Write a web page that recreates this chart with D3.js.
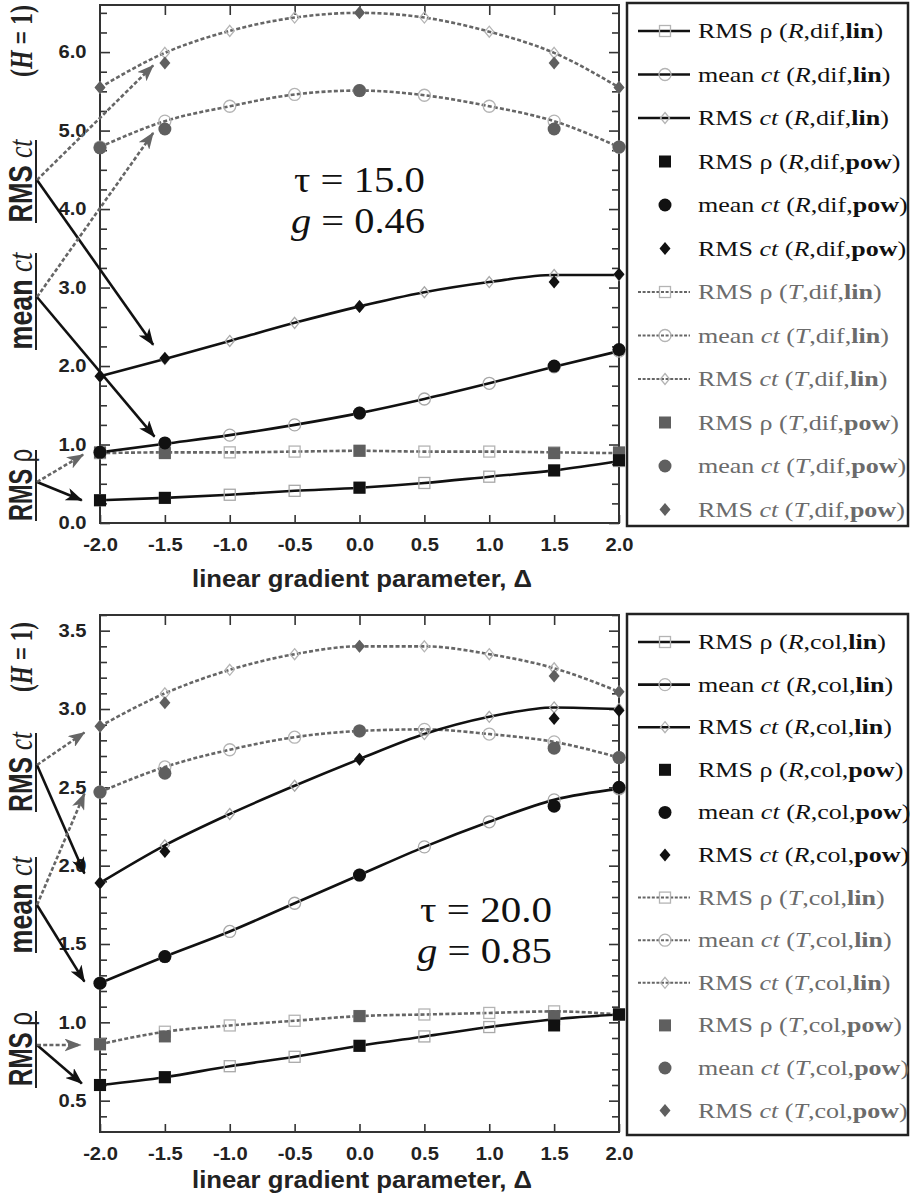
<!DOCTYPE html>
<html>
<head>
<meta charset="utf-8">
<script src="https://cdn.jsdelivr.net/npm/d3@7"></script>
<style>
  body { margin: 0; background: #fff; }
  svg { display: block; }
</style>
</head>
<body>
<div id="canvas"></div>
<script>
// linear gradient parameter values
const deltas = [-2.0, -1.5, -1.0, -0.5, 0.0, 0.5, 1.0, 1.5, 2.0];
const powDeltas = [-2.0, -1.5, 0.0, 1.5, 2.0];
const xTicks = [-2.0, -1.5, -1.0, -0.5, 0.0, 0.5, 1.0, 1.5, 2.0];

// top panel: tau = 15.0, g = 0.46, diffuse
const difRlinRho  = [0.29, 0.32, 0.36, 0.41, 0.45, 0.51, 0.59, 0.67, 0.79];
const difRlinMean = [0.90, 1.01, 1.12, 1.25, 1.40, 1.58, 1.78, 1.99, 2.19];
const difRlinRms  = [1.87, 2.09, 2.32, 2.55, 2.76, 2.94, 3.07, 3.16, 3.16];
const difTlinRho  = [0.89, 0.90, 0.90, 0.91, 0.92, 0.91, 0.91, 0.90, 0.89];
const difTlinMean = [4.79, 5.12, 5.31, 5.46, 5.51, 5.45, 5.31, 5.12, 4.79];
const difTlinRms  = [5.55, 5.99, 6.27, 6.44, 6.50, 6.44, 6.26, 5.99, 5.55];
const difRpowRho  = [0.29, 0.32, 0.45, 0.67, 0.80];
const difRpowMean = [0.90, 1.02, 1.40, 2.00, 2.21];
const difRpowRms  = [1.87, 2.10, 2.76, 3.07, 3.17];
const difTpowRho  = [0.90, 0.89, 0.92, 0.89, 0.90];
const difTpowMean = [4.78, 5.02, 5.51, 5.02, 4.79];
const difTpowRms  = [5.55, 5.86, 6.50, 5.86, 5.55];
const difYTicks = [0, 1, 2, 3, 4, 5, 6];

// bottom panel: tau = 20.0, g = 0.85, collimated
const colRlinRho  = [0.60, 0.65, 0.72, 0.78, 0.85, 0.91, 0.97, 1.02, 1.05];
const colRlinMean = [1.25, 1.42, 1.58, 1.76, 1.94, 2.12, 2.28, 2.42, 2.49];
const colRlinRms  = [1.89, 2.13, 2.33, 2.51, 2.68, 2.84, 2.95, 3.01, 3.00];
const colTlinRho  = [0.86, 0.94, 0.98, 1.01, 1.04, 1.05, 1.06, 1.07, 1.05];
const colTlinMean = [2.47, 2.63, 2.74, 2.82, 2.86, 2.87, 2.84, 2.79, 2.69];
const colTlinRms  = [2.89, 3.10, 3.25, 3.35, 3.40, 3.40, 3.35, 3.26, 3.11];
const colRpowRho  = [0.60, 0.65, 0.85, 0.98, 1.05];
const colRpowMean = [1.25, 1.42, 1.94, 2.38, 2.50];
const colRpowRms  = [1.89, 2.09, 2.68, 2.94, 2.99];
const colTpowRho  = [0.86, 0.91, 1.04, 1.04, 1.05];
const colTpowMean = [2.47, 2.59, 2.86, 2.75, 2.69];
const colTpowRms  = [2.89, 3.04, 3.40, 3.21, 3.11];
const colYTicks = [0.5, 1.0, 1.5, 2.0, 2.5, 3.0, 3.5];

const measures = ['rho', 'mean', 'rms'];
const shapes = { rho: 'square', mean: 'circle', rms: 'diamond' };

const SANS = "'Liberation Sans', Arial, sans-serif";
const SERIF = "'Liberation Serif', 'Times New Roman', serif";
const BLACK = '#111';
const DARK_GREY = '#5f5f5f';
const LIGHT = '#a8a8a8';
const T_TEXT = '#6b6b6b';

const panels = [
  {
    kind: 'dif', top: 5, bottom: 523, yDomain: [0, 6.6], yTicks: difYTicks, minorStep: 0.25,
    lin: { R: [difRlinRho, difRlinMean, difRlinRms], T: [difTlinRho, difTlinMean, difTlinRms] },
    pow: { R: [difRpowRho, difRpowMean, difRpowRms], T: [difTpowRho, difTpowMean, difTpowRms] },
    tau: '15.0', g: '0.46', noteX: 294, noteY: 192, noteLen: 131,
    labels: { h: [41, 72], rms: [181, 83, 140, 223], mean: [301, 97, 253, 350], rho: [485, 72, 450, 521] },
    arrows: [
      { from: [37, 180], to: [-1.59, 2.27], dotted: false },
      { from: [37, 180], to: [-1.59, 5.83], dotted: true },
      { from: [37, 297], to: [-1.58, 1.10], dotted: false },
      { from: [37, 297], to: [-1.59, 4.97], dotted: true },
      { from: [37, 482], to: [-2.14, 0.29], dotted: false },
      { from: [37, 482], to: [-2.13, 0.87], dotted: true }
    ],
    legendTop: 3, rowY0: 31, rowStep: 43.5, xTitleY: 587
  },
  {
    kind: 'col', top: 615, bottom: 1132, yDomain: [0.3, 3.6], yTicks: colYTicks, minorStep: 0.1,
    lin: { R: [colRlinRho, colRlinMean, colRlinRms], T: [colTlinRho, colTlinMean, colTlinRms] },
    pow: { R: [colRpowRho, colRpowMean, colRpowRms], T: [colTpowRho, colTpowMean, colTpowRms] },
    tau: '20.0', g: '0.85', noteX: 420, noteY: 922, noteLen: 132,
    labels: { h: [657, 70], rms: [772, 80, 733, 812], mean: [905, 97, 857, 953], rho: [1049, 74, 1011, 1088] },
    arrows: [
      { from: [37, 765], to: [-2.12, 1.95], dotted: false },
      { from: [37, 765], to: [-2.12, 2.85], dotted: true },
      { from: [37, 905], to: [-2.12, 1.26], dotted: false },
      { from: [37, 905], to: [-2.12, 2.46], dotted: true },
      { from: [37, 1045], to: [-2.14, 0.61], dotted: false },
      { from: [37, 1045], to: [-2.15, 0.855], dotted: true }
    ],
    legendTop: 614, rowY0: 642, rowStep: 42.6, xTitleY: 1188
  }
];

const svg = d3.select('#canvas').append('svg')
  .attr('width', 910)
  .attr('height', 1202);

const defs = svg.append('defs');
[['head-black', BLACK], ['head-grey', '#666']].forEach(([id, c]) => {
  defs.append('marker')
    .attr('id', id)
    .attr('viewBox', '0 0 17 13')
    .attr('refX', 16).attr('refY', 6.5)
    .attr('markerWidth', 17).attr('markerHeight', 13)
    .attr('markerUnits', 'userSpaceOnUse')
    .attr('orient', 'auto')
    .append('path')
    .attr('d', 'M0,0 L17,6.5 L0,13 L4.5,6.5 Z')
    .attr('fill', c);
});

const x = d3.scaleLinear().domain([-2, 2]).range([100, 619]);

function drawSymbol(g, shape, cx, cy, filled, color) {
  let s;
  if (shape === 'square') {
    const h = filled ? 6 : 5.5;
    s = g.append('rect').attr('x', cx - h).attr('y', cy - h).attr('width', 2 * h).attr('height', 2 * h);
  } else if (shape === 'circle') {
    s = g.append('circle').attr('cx', cx).attr('cy', cy).attr('r', filled ? 6.5 : 6);
  } else {
    const h = filled ? 6.5 : 5.5, w = filled ? 5.5 : 4.5;
    s = g.append('path').attr('d', `M${cx},${cy - h}L${cx + w},${cy}L${cx},${cy + h}L${cx - w},${cy}Z`);
  }
  if (filled) s.attr('fill', color).attr('stroke', 'none');
  else s.attr('fill', 'none').attr('stroke', color).attr('stroke-width', 1.3);
}

function addParts(t, parts) {
  parts.forEach(p => {
    t.append('tspan').text(p.t)
      .attr('font-family', p.f || SERIF)
      .attr('font-weight', p.b ? 'bold' : 'normal')
      .attr('font-style', p.i ? 'italic' : 'normal');
  });
}

panels.forEach(p => {
  const y = d3.scaleLinear().domain(p.yDomain).range([p.bottom, p.top]);
  const g = svg.append('g');

  // axes with inward ticks
  const minor = d3.range(p.yDomain[0], p.yDomain[1] + 1e-9, p.minorStep)
    .map(v => +v.toFixed(3))
    .filter(v => !p.yTicks.some(m => Math.abs(m - v) < 1e-6) && v > p.yDomain[0] + 1e-6);
  const fmt = d => d.toFixed(1);

  const styleAxis = sel => {
    sel.select('.domain').remove();
    sel.selectAll('line').attr('stroke', '#333').attr('stroke-width', 1.6);
    sel.selectAll('text')
      .attr('font-family', SANS).attr('font-weight', 'bold')
      .attr('font-size', 18).attr('fill', '#222')
      .attr('transform', 'scale(1.12,1)');
  };

  g.append('g').attr('transform', 'translate(100,0)')
    .call(d3.axisLeft(y).tickValues(p.yTicks).tickSizeInner(-10).tickSizeOuter(0).tickPadding(12).tickFormat(fmt))
    .call(styleAxis);
  g.append('g').attr('transform', 'translate(100,0)')
    .call(d3.axisLeft(y).tickValues(minor).tickSizeInner(-7).tickSizeOuter(0).tickFormat(''))
    .call(styleAxis);
  g.append('g').attr('transform', 'translate(619,0)')
    .call(d3.axisRight(y).tickValues(p.yTicks).tickSizeInner(-10).tickSizeOuter(0).tickFormat(''))
    .call(styleAxis);
  g.append('g').attr('transform', 'translate(619,0)')
    .call(d3.axisRight(y).tickValues(minor).tickSizeInner(-7).tickSizeOuter(0).tickFormat(''))
    .call(styleAxis);
  g.append('g').attr('transform', `translate(0,${p.top})`)
    .call(d3.axisTop(x).tickValues(xTicks.slice(1, -1)).tickSizeInner(-10).tickSizeOuter(0).tickFormat(''))
    .call(styleAxis);
  g.append('g').attr('transform', `translate(0,${p.bottom})`)
    .call(d3.axisBottom(x).tickValues(xTicks).tickSizeInner(-8).tickSizeOuter(0).tickPadding(15).tickFormat(fmt))
    .call(styleAxis);

  g.append('rect')
    .attr('x', 100).attr('y', p.top)
    .attr('width', 519).attr('height', p.bottom - p.top)
    .attr('fill', 'none').attr('stroke', '#333').attr('stroke-width', 2);

  g.append('text')
    .attr('x', 362).attr('y', p.xTitleY)
    .attr('text-anchor', 'middle')
    .attr('font-family', SANS).attr('font-weight', 'bold').attr('font-size', 24)
    .attr('fill', '#222')
    .attr('textLength', 340).attr('lengthAdjust', 'spacingAndGlyphs')
    .text('linear gradient parameter, Δ');

  // curves for the linear-gradient runs
  const line = d3.line()
    .x((d, i) => x(deltas[i]))
    .y(d => y(d))
    .curve(d3.curveMonotoneX);

  p.lin.T.forEach(vals => {
    g.append('path').attr('d', line(vals))
      .attr('fill', 'none').attr('stroke', '#666')
      .attr('stroke-width', 2.6).attr('stroke-dasharray', '4,2.2');
  });
  p.lin.R.forEach(vals => {
    g.append('path').attr('d', line(vals))
      .attr('fill', 'none').attr('stroke', BLACK).attr('stroke-width', 2.6);
  });

  // open markers (lin), then filled markers (pow)
  ['T', 'R'].forEach(src => {
    p.lin[src].forEach((vals, k) => {
      vals.forEach((v, i) => drawSymbol(g, shapes[measures[k]], x(deltas[i]), y(v), false,
        src === 'T' ? '#b4b4b4' : LIGHT));
    });
  });
  ['T', 'R'].forEach(src => {
    p.pow[src].forEach((vals, k) => {
      vals.forEach((v, i) => drawSymbol(g, shapes[measures[k]], x(powDeltas[i]), y(v), true,
        src === 'T' ? DARK_GREY : BLACK));
    });
  });

  // annotation
  const note = g.append('g')
    .attr('font-family', SERIF).attr('font-size', 36).attr('fill', '#111');
  const t1 = note.append('text').attr('x', p.noteX).attr('y', p.noteY)
    .attr('textLength', p.noteLen).attr('lengthAdjust', 'spacingAndGlyphs');
  addParts(t1, [{ t: 'τ = ' + p.tau }]);
  const t2 = note.append('text').attr('x', p.noteX - 3).attr('y', p.noteY + 41)
    .attr('textLength', p.noteLen + 3).attr('lengthAdjust', 'spacingAndGlyphs');
  addParts(t2, [{ t: 'g', i: true }, { t: ' = ' + p.g }]);

  // rotated side labels
  const side = (cy, len, parts, size) => {
    const t = g.append('text')
      .attr('transform', `translate(32,${cy}) scale(1.3,1) rotate(-90)`)
      .attr('text-anchor', 'middle').attr('font-size', size).attr('fill', '#222')
      .attr('textLength', len).attr('lengthAdjust', 'spacingAndGlyphs');
    addParts(t, parts);
  };
  side(p.labels.h[0], p.labels.h[1],
    [{ t: '(', b: true }, { t: 'H', b: true, i: true }, { t: ' = 1)', b: true }], 24);
  side(p.labels.rms[0], p.labels.rms[1],
    [{ t: 'RMS ', f: SANS, b: true }, { t: 'ct', i: true }], 26);
  side(p.labels.mean[0], p.labels.mean[1],
    [{ t: 'mean ', f: SANS, b: true }, { t: 'ct', i: true }], 26);
  side(p.labels.rho[0], p.labels.rho[1],
    [{ t: 'RMS ', f: SANS, b: true }, { t: 'ρ', f: SANS }], 26);
  ['rms', 'mean', 'rho'].forEach(k => {
    g.append('line')
      .attr('x1', 36).attr('x2', 36)
      .attr('y1', p.labels[k][2]).attr('y2', p.labels[k][3])
      .attr('stroke', '#222').attr('stroke-width', 2);
  });

  // arrows from the labels to the curves
  p.arrows.forEach(a => {
    g.append('line')
      .attr('x1', a.from[0]).attr('y1', a.from[1])
      .attr('x2', x(a.to[0])).attr('y2', y(a.to[1]))
      .attr('stroke', a.dotted ? '#666' : BLACK)
      .attr('stroke-width', 2.6)
      .attr('stroke-dasharray', a.dotted ? '4,2.2' : null)
      .attr('marker-end', a.dotted ? 'url(#head-grey)' : 'url(#head-black)');
  });

  // legend
  const lg = g.append('g');
  lg.append('rect')
    .attr('x', 627).attr('y', p.legendTop)
    .attr('width', 281).attr('height', p.bottom + 3 - p.legendTop)
    .attr('fill', '#fff').attr('stroke', '#222').attr('stroke-width', 2.5);

  const entries = [];
  ['R', 'T'].forEach(src => {
    ['lin', 'pow'].forEach(mode => {
      measures.forEach(m => entries.push({ src, mode, m }));
    });
  });
  entries.forEach((e, i) => {
    const ry = p.rowY0 + i * p.rowStep;
    const col = e.src === 'T' ? T_TEXT : BLACK;
    if (e.mode === 'lin') {
      lg.append('line').attr('x1', 638).attr('x2', 690).attr('y1', ry).attr('y2', ry)
        .attr('stroke', e.src === 'T' ? '#666' : BLACK)
        .attr('stroke-width', e.src === 'T' ? 2 : 2.6)
        .attr('stroke-dasharray', e.src === 'T' ? '3,1.6' : null);
      drawSymbol(lg, shapes[e.m], 665, ry, false, '#b4b4b4');
    } else {
      drawSymbol(lg, shapes[e.m], 665, ry, true, e.src === 'T' ? DARK_GREY : BLACK);
    }
    const t = lg.append('text')
      .attr('transform', `translate(698,${ry + 7}) scale(1.24,1)`)
      .attr('font-size', 21).attr('fill', col);
    const lead = e.m === 'rho' ? [{ t: 'RMS ρ (' }]
      : [{ t: e.m === 'mean' ? 'mean ' : 'RMS ' }, { t: 'ct', i: true }, { t: ' (' }];
    addParts(t, lead.concat([
      { t: e.src, i: true },
      { t: ',' + p.kind + ',' },
      { t: e.mode, b: true },
      { t: ')' }
    ]));
  });
});
</script>
</body>
</html>
